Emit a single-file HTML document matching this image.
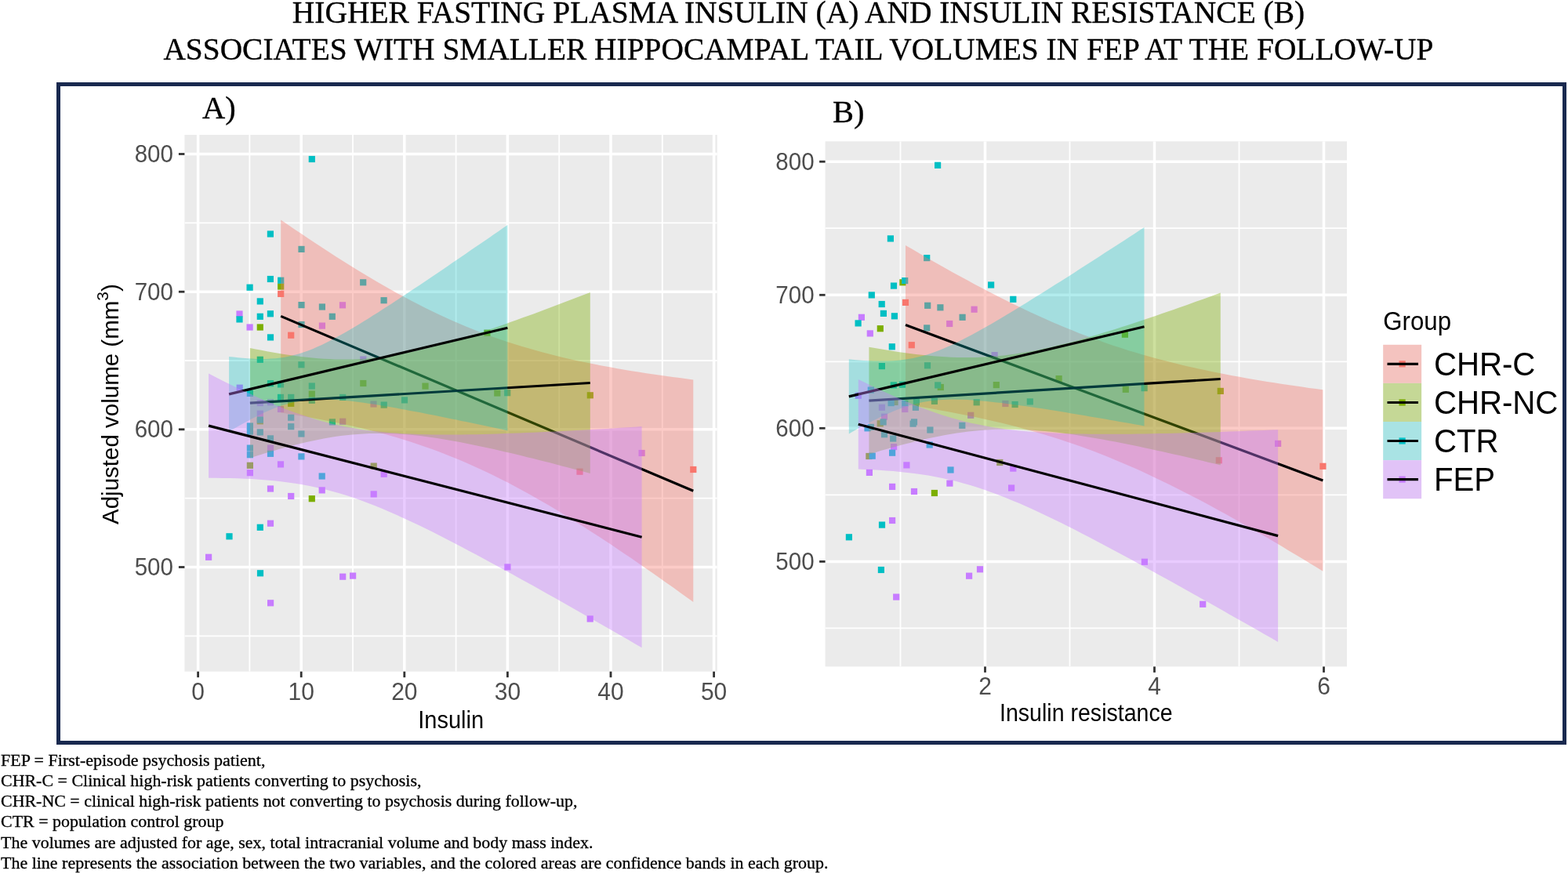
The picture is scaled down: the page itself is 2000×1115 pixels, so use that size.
<!DOCTYPE html>
<html><head><meta charset="utf-8"><title>Insulin and hippocampal tail volumes</title>
<style>
html,body{margin:0;padding:0;background:#fff;}
body{width:2000px;height:1115px;overflow:hidden;position:relative;}
svg{position:absolute;left:0;top:0;}
.ti{font-family:"Liberation Serif","Times New Roman",serif;font-size:39.46px;fill:#000;stroke:#000;stroke-width:0.35px;}
.pl{font-family:"Liberation Serif","Times New Roman",serif;font-size:40.5px;fill:#000;stroke:#000;stroke-width:0.35px;}
.ax{font-family:"Liberation Sans",Arial,Helvetica,sans-serif;font-size:29.1px;fill:#4D4D4D;}
.at{font-family:"Liberation Sans",Arial,Helvetica,sans-serif;font-size:29px;fill:#000;}
.lt{font-family:"Liberation Sans",Arial,Helvetica,sans-serif;font-size:31.2px;fill:#000;}
.ll{font-family:"Liberation Sans",Arial,Helvetica,sans-serif;font-size:39.8px;fill:#000;}
.fn{font-family:"Liberation Serif","Times New Roman",serif;font-size:21.1px;fill:#000;stroke:#000;stroke-width:0.3px;}
</style></head>
<body>
<svg width="2000" height="1115" viewBox="0 0 2000 1115">
<text transform="translate(1018.5,28.7) scale(1,1.03)" class="ti" text-anchor="middle">HIGHER FASTING PLASMA INSULIN (A) AND INSULIN RESISTANCE (B)</text>
<text transform="translate(1018.4,75.9) scale(0.9985,1.03)" class="ti" text-anchor="middle">ASSOCIATES WITH SMALLER HIPPOCAMPAL TAIL VOLUMES IN FEP AT THE FOLLOW-UP</text>
<rect x="74.5" y="107.5" width="1921" height="840" fill="none" stroke="#19294F" stroke-width="5"/>
<text x="258" y="150.9" class="pl">A)</text>
<text x="1061.9" y="155.9" class="pl">B)</text>
<defs><clipPath id="cA"><rect x="235.4" y="172" width="679.4" height="684.7"/></clipPath></defs>
<rect x="235.4" y="172" width="679.4" height="684.7" fill="#EBEBEB"/>
<g clip-path="url(#cA)">
<line x1="235.4" x2="914.8" y1="811.3" y2="811.3" stroke="#fff" stroke-width="1.8"/>
<line x1="235.4" x2="914.8" y1="635.7" y2="635.7" stroke="#fff" stroke-width="1.8"/>
<line x1="235.4" x2="914.8" y1="460" y2="460" stroke="#fff" stroke-width="1.8"/>
<line x1="235.4" x2="914.8" y1="284.3" y2="284.3" stroke="#fff" stroke-width="1.8"/>
<line x1="318.4" x2="318.4" y1="172" y2="856.7" stroke="#fff" stroke-width="1.8"/>
<line x1="450" x2="450" y1="172" y2="856.7" stroke="#fff" stroke-width="1.8"/>
<line x1="581.6" x2="581.6" y1="172" y2="856.7" stroke="#fff" stroke-width="1.8"/>
<line x1="713.2" x2="713.2" y1="172" y2="856.7" stroke="#fff" stroke-width="1.8"/>
<line x1="844.8" x2="844.8" y1="172" y2="856.7" stroke="#fff" stroke-width="1.8"/>
<line x1="235.4" x2="914.8" y1="723.5" y2="723.5" stroke="#fff" stroke-width="3.5"/>
<line x1="235.4" x2="914.8" y1="547.8" y2="547.8" stroke="#fff" stroke-width="3.5"/>
<line x1="235.4" x2="914.8" y1="372.2" y2="372.2" stroke="#fff" stroke-width="3.5"/>
<line x1="235.4" x2="914.8" y1="196.5" y2="196.5" stroke="#fff" stroke-width="3.5"/>
<line x1="252.6" x2="252.6" y1="172" y2="856.7" stroke="#fff" stroke-width="3.5"/>
<line x1="384.2" x2="384.2" y1="172" y2="856.7" stroke="#fff" stroke-width="3.5"/>
<line x1="515.8" x2="515.8" y1="172" y2="856.7" stroke="#fff" stroke-width="3.5"/>
<line x1="647.4" x2="647.4" y1="172" y2="856.7" stroke="#fff" stroke-width="3.5"/>
<line x1="779" x2="779" y1="172" y2="856.7" stroke="#fff" stroke-width="3.5"/>
<line x1="910.6" x2="910.6" y1="172" y2="856.7" stroke="#fff" stroke-width="3.5"/>
<rect x="354.1" y="370.8" width="8.2" height="8.2" fill="#F8766D"/>
<rect x="367.1" y="423.6" width="8.2" height="8.2" fill="#F8766D"/>
<rect x="880.2" y="594.9" width="8.2" height="8.2" fill="#F8766D"/>
<rect x="735.4" y="597.6" width="8.2" height="8.2" fill="#F8766D"/>
<rect x="354.1" y="361.4" width="8.2" height="8.2" fill="#7CAE00"/>
<rect x="327.7" y="413.4" width="8.2" height="8.2" fill="#7CAE00"/>
<rect x="459.2" y="484.9" width="8.2" height="8.2" fill="#7CAE00"/>
<rect x="393.7" y="498.5" width="8.2" height="8.2" fill="#7CAE00"/>
<rect x="367.1" y="510.7" width="8.2" height="8.2" fill="#7CAE00"/>
<rect x="327.7" y="533.2" width="8.2" height="8.2" fill="#7CAE00"/>
<rect x="314.8" y="589.7" width="8.2" height="8.2" fill="#7CAE00"/>
<rect x="472.6" y="590.5" width="8.2" height="8.2" fill="#7CAE00"/>
<rect x="393.7" y="632.1" width="8.2" height="8.2" fill="#7CAE00"/>
<rect x="538.4" y="488.5" width="8.2" height="8.2" fill="#7CAE00"/>
<rect x="630.2" y="497.4" width="8.2" height="8.2" fill="#7CAE00"/>
<rect x="617.3" y="420.6" width="8.2" height="8.2" fill="#7CAE00"/>
<rect x="748.7" y="500.2" width="8.2" height="8.2" fill="#7CAE00"/>
<rect x="393.7" y="198.9" width="8.2" height="8.2" fill="#00BFC4"/>
<rect x="340.8" y="294.4" width="8.2" height="8.2" fill="#00BFC4"/>
<rect x="380.4" y="313.8" width="8.2" height="8.2" fill="#00BFC4"/>
<rect x="340.8" y="351.9" width="8.2" height="8.2" fill="#00BFC4"/>
<rect x="354.1" y="353.6" width="8.2" height="8.2" fill="#00BFC4"/>
<rect x="314.5" y="362.6" width="8.2" height="8.2" fill="#00BFC4"/>
<rect x="459.1" y="356.2" width="8.2" height="8.2" fill="#00BFC4"/>
<rect x="327.7" y="380.3" width="8.2" height="8.2" fill="#00BFC4"/>
<rect x="380.4" y="385" width="8.2" height="8.2" fill="#00BFC4"/>
<rect x="406.8" y="387.4" width="8.2" height="8.2" fill="#00BFC4"/>
<rect x="432.9" y="385.2" width="8.2" height="8.2" fill="#C77CFF"/>
<rect x="301.4" y="396.4" width="8.2" height="8.2" fill="#C77CFF"/>
<rect x="301.4" y="403.3" width="8.2" height="8.2" fill="#00BFC4"/>
<rect x="327.7" y="399.7" width="8.2" height="8.2" fill="#00BFC4"/>
<rect x="340.8" y="396.2" width="8.2" height="8.2" fill="#00BFC4"/>
<rect x="419.7" y="399.7" width="8.2" height="8.2" fill="#00BFC4"/>
<rect x="314.5" y="413.4" width="8.2" height="8.2" fill="#C77CFF"/>
<rect x="380.4" y="409.9" width="8.2" height="8.2" fill="#00BFC4"/>
<rect x="406.8" y="411.5" width="8.2" height="8.2" fill="#C77CFF"/>
<rect x="485.5" y="379.1" width="8.2" height="8.2" fill="#00BFC4"/>
<rect x="340.9" y="426.3" width="8.2" height="8.2" fill="#00BFC4"/>
<rect x="327.7" y="454.7" width="8.2" height="8.2" fill="#00BFC4"/>
<rect x="380.3" y="461.2" width="8.2" height="8.2" fill="#00BFC4"/>
<rect x="459.2" y="454.4" width="8.2" height="8.2" fill="#C77CFF"/>
<rect x="340.9" y="485.1" width="8.2" height="8.2" fill="#00BFC4"/>
<rect x="353.9" y="486.3" width="8.2" height="8.2" fill="#00BFC4"/>
<rect x="393.7" y="488.4" width="8.2" height="8.2" fill="#00BFC4"/>
<rect x="301.6" y="490.6" width="8.2" height="8.2" fill="#C77CFF"/>
<rect x="314.8" y="497.8" width="8.2" height="8.2" fill="#00BFC4"/>
<rect x="353.9" y="502.8" width="8.2" height="8.2" fill="#00BFC4"/>
<rect x="367.1" y="502.8" width="8.2" height="8.2" fill="#00BFC4"/>
<rect x="393.7" y="506.7" width="8.2" height="8.2" fill="#00BFC4"/>
<rect x="433.1" y="502.8" width="8.2" height="8.2" fill="#00BFC4"/>
<rect x="327.7" y="510" width="8.2" height="8.2" fill="#C77CFF"/>
<rect x="340.9" y="509.2" width="8.2" height="8.2" fill="#C77CFF"/>
<rect x="353.9" y="517.9" width="8.2" height="8.2" fill="#C77CFF"/>
<rect x="472.4" y="511.4" width="8.2" height="8.2" fill="#C77CFF"/>
<rect x="327.7" y="523.6" width="8.2" height="8.2" fill="#C77CFF"/>
<rect x="327.7" y="531.5" width="8.2" height="8.2" fill="#00BFC4"/>
<rect x="367.1" y="528.6" width="8.2" height="8.2" fill="#00BFC4"/>
<rect x="419.8" y="534.3" width="8.2" height="8.2" fill="#00BFC4"/>
<rect x="433.1" y="533.6" width="8.2" height="8.2" fill="#C77CFF"/>
<rect x="314.8" y="539.4" width="8.2" height="8.2" fill="#00BFC4"/>
<rect x="367.1" y="540.1" width="8.2" height="8.2" fill="#00BFC4"/>
<rect x="327.7" y="547.3" width="8.2" height="8.2" fill="#00BFC4"/>
<rect x="380.3" y="549.4" width="8.2" height="8.2" fill="#00BFC4"/>
<rect x="314.8" y="546.5" width="8.2" height="8.2" fill="#00BFC4"/>
<rect x="340.9" y="555.3" width="8.2" height="8.2" fill="#00BFC4"/>
<rect x="340.9" y="567.5" width="8.2" height="8.2" fill="#C77CFF"/>
<rect x="314.8" y="567.5" width="8.2" height="8.2" fill="#00BFC4"/>
<rect x="314.8" y="576.1" width="8.2" height="8.2" fill="#00BFC4"/>
<rect x="340.9" y="574.7" width="8.2" height="8.2" fill="#00BFC4"/>
<rect x="380.3" y="578.3" width="8.2" height="8.2" fill="#00BFC4"/>
<rect x="353.9" y="588.3" width="8.2" height="8.2" fill="#C77CFF"/>
<rect x="314.8" y="599.1" width="8.2" height="8.2" fill="#C77CFF"/>
<rect x="406.6" y="603.4" width="8.2" height="8.2" fill="#00BFC4"/>
<rect x="340.9" y="619.4" width="8.2" height="8.2" fill="#C77CFF"/>
<rect x="406.6" y="621.3" width="8.2" height="8.2" fill="#C77CFF"/>
<rect x="367.1" y="628.9" width="8.2" height="8.2" fill="#C77CFF"/>
<rect x="472.6" y="626.3" width="8.2" height="8.2" fill="#C77CFF"/>
<rect x="340.9" y="663.6" width="8.2" height="8.2" fill="#C77CFF"/>
<rect x="327.7" y="668.7" width="8.2" height="8.2" fill="#00BFC4"/>
<rect x="288.4" y="680.2" width="8.2" height="8.2" fill="#00BFC4"/>
<rect x="262" y="706.7" width="8.2" height="8.2" fill="#C77CFF"/>
<rect x="327.9" y="727.2" width="8.2" height="8.2" fill="#00BFC4"/>
<rect x="341" y="765.2" width="8.2" height="8.2" fill="#C77CFF"/>
<rect x="433.1" y="731.6" width="8.2" height="8.2" fill="#C77CFF"/>
<rect x="446" y="730.5" width="8.2" height="8.2" fill="#C77CFF"/>
<rect x="511.9" y="506.3" width="8.2" height="8.2" fill="#00BFC4"/>
<rect x="485.6" y="512.5" width="8.2" height="8.2" fill="#00BFC4"/>
<rect x="643.1" y="497.1" width="8.2" height="8.2" fill="#00BFC4"/>
<rect x="485.6" y="600.7" width="8.2" height="8.2" fill="#C77CFF"/>
<rect x="643.3" y="719.3" width="8.2" height="8.2" fill="#C77CFF"/>
<rect x="814.5" y="573.9" width="8.2" height="8.2" fill="#C77CFF"/>
<rect x="748.6" y="785.4" width="8.2" height="8.2" fill="#C77CFF"/>
<path d="M358.2,280.4 L367,286.4 L375.7,292.4 L384.5,298.3 L393.3,304.2 L402,310.1 L410.8,315.8 L419.6,321.5 L428.3,327.2 L437.1,332.8 L445.9,338.3 L454.7,343.7 L463.4,349 L472.2,354.3 L481,359.5 L489.7,364.5 L498.5,369.5 L507.3,374.4 L516,379.1 L524.8,383.8 L533.6,388.3 L542.3,392.8 L551.1,397.1 L559.9,401.3 L568.6,405.3 L577.4,409.2 L586.2,413.1 L594.9,416.7 L603.7,420.3 L612.5,423.7 L621.2,427 L630,430.2 L638.8,433.3 L647.6,436.2 L656.3,439 L665.1,441.7 L673.9,444.3 L682.6,446.8 L691.4,449.2 L700.2,451.5 L708.9,453.8 L717.7,455.9 L726.5,457.9 L735.2,459.9 L744,461.8 L752.8,463.6 L761.5,465.3 L770.3,467 L779.1,468.6 L787.8,470.2 L796.6,471.7 L805.4,473.2 L814.2,474.6 L822.9,475.9 L831.7,477.2 L840.5,478.5 L849.2,479.8 L858,481 L866.8,482.1 L875.5,483.3 L884.3,484.4 L884.3,768 L875.5,761.7 L866.8,755.4 L858,749.1 L849.2,742.9 L840.5,736.7 L831.7,730.5 L822.9,724.4 L814.2,718.4 L805.4,712.3 L796.6,706.4 L787.8,700.5 L779.1,694.6 L770.3,688.8 L761.5,683 L752.8,677.4 L744,671.7 L735.2,666.2 L726.5,660.7 L717.7,655.4 L708.9,650.1 L700.2,644.8 L691.4,639.7 L682.6,634.7 L673.9,629.8 L665.1,625 L656.3,620.2 L647.6,615.6 L638.8,611.2 L630,606.8 L621.2,602.5 L612.5,598.4 L603.7,594.4 L594.9,590.5 L586.2,586.8 L577.4,583.2 L568.6,579.7 L559.9,576.3 L551.1,573.1 L542.3,570 L533.6,567 L524.8,564.1 L516,561.3 L507.3,558.6 L498.5,556.1 L489.7,553.6 L481,551.3 L472.2,549 L463.4,546.8 L454.7,544.8 L445.9,542.8 L437.1,540.8 L428.3,539 L419.6,537.2 L410.8,535.5 L402,533.8 L393.3,532.3 L384.5,530.7 L375.7,529.2 L367,527.8 L358.2,526.4Z" fill="#F8766D" fill-opacity="0.38"/>
<line x1="358.2" y1="403.4" x2="884.3" y2="626.2" stroke="#000" stroke-width="3.2"/>
<path d="M318.9,443.9 L326.1,445.4 L333.4,446.8 L340.6,448.2 L347.8,449.5 L355.1,450.7 L362.3,451.9 L369.5,453 L376.8,454 L384,454.9 L391.2,455.8 L398.4,456.5 L405.7,457.2 L412.9,457.7 L420.1,458.1 L427.4,458.4 L434.6,458.5 L441.8,458.6 L449.1,458.4 L456.3,458.2 L463.5,457.8 L470.8,457.2 L478,456.6 L485.2,455.7 L492.5,454.8 L499.7,453.7 L506.9,452.5 L514.2,451.1 L521.4,449.7 L528.6,448.1 L535.8,446.5 L543.1,444.7 L550.3,442.9 L557.5,441 L564.8,439 L572,436.9 L579.2,434.8 L586.5,432.6 L593.7,430.3 L600.9,428 L608.2,425.7 L615.4,423.3 L622.6,420.9 L629.9,418.4 L637.1,415.9 L644.3,413.4 L651.6,410.8 L658.8,408.2 L666,405.6 L673.3,403 L680.5,400.4 L687.7,397.7 L694.9,395 L702.2,392.3 L709.4,389.6 L716.6,386.8 L723.9,384.1 L731.1,381.3 L738.3,378.5 L745.6,375.7 L752.8,372.9 L752.8,604 L745.6,602.1 L738.3,600.1 L731.1,598.2 L723.9,596.3 L716.6,594.4 L709.4,592.5 L702.2,590.6 L694.9,588.8 L687.7,587 L680.5,585.1 L673.3,583.4 L666,581.6 L658.8,579.8 L651.6,578.1 L644.3,576.4 L637.1,574.7 L629.9,573.1 L622.6,571.5 L615.4,569.9 L608.2,568.4 L600.9,566.9 L593.7,565.5 L586.5,564.1 L579.2,562.7 L572,561.5 L564.8,560.2 L557.5,559.1 L550.3,558 L543.1,557 L535.8,556.1 L528.6,555.3 L521.4,554.6 L514.2,554.1 L506.9,553.6 L499.7,553.2 L492.5,553 L485.2,552.9 L478,552.9 L470.8,553.1 L463.5,553.4 L456.3,553.9 L449.1,554.5 L441.8,555.2 L434.6,556.1 L427.4,557.1 L420.1,558.2 L412.9,559.5 L405.7,560.9 L398.4,562.4 L391.2,564 L384,565.7 L376.8,567.5 L369.5,569.4 L362.3,571.3 L355.1,573.3 L347.8,575.4 L340.6,577.6 L333.4,579.8 L326.1,582.1 L318.9,584.4Z" fill="#7CAE00" fill-opacity="0.38"/>
<line x1="318.9" y1="514.2" x2="752.8" y2="488.5" stroke="#000" stroke-width="3.2"/>
<path d="M292.1,454.9 L298,455.6 L303.9,456.3 L309.8,456.8 L315.8,457.3 L321.7,457.6 L327.6,457.9 L333.5,458 L339.5,457.9 L345.4,457.6 L351.3,457.2 L357.2,456.5 L363.1,455.7 L369.1,454.5 L375,453.1 L380.9,451.5 L386.8,449.6 L392.8,447.5 L398.7,445.2 L404.6,442.6 L410.5,439.9 L416.4,437 L422.4,434 L428.3,430.8 L434.2,427.6 L440.1,424.2 L446.1,420.8 L452,417.3 L457.9,413.7 L463.8,410 L469.7,406.4 L475.7,402.6 L481.6,398.9 L487.5,395.1 L493.4,391.3 L499.4,387.4 L505.3,383.5 L511.2,379.6 L517.1,375.7 L523,371.8 L529,367.8 L534.9,363.9 L540.8,359.9 L546.7,355.9 L552.6,351.9 L558.6,347.9 L564.5,343.9 L570.4,339.9 L576.3,335.8 L582.3,331.8 L588.2,327.7 L594.1,323.7 L600,319.6 L605.9,315.6 L611.9,311.5 L617.8,307.4 L623.7,303.4 L629.6,299.3 L635.6,295.2 L641.5,291.1 L647.4,287 L647.4,549.4 L641.5,548.1 L635.6,546.8 L629.6,545.6 L623.7,544.3 L617.8,543.1 L611.9,541.8 L605.9,540.6 L600,539.3 L594.1,538.1 L588.2,536.9 L582.3,535.6 L576.3,534.4 L570.4,533.2 L564.5,532 L558.6,530.8 L552.6,529.6 L546.7,528.5 L540.8,527.3 L534.9,526.1 L529,525 L523,523.9 L517.1,522.8 L511.2,521.7 L505.3,520.6 L499.4,519.5 L493.4,518.5 L487.5,517.5 L481.6,516.5 L475.7,515.6 L469.7,514.7 L463.8,513.8 L457.9,513 L452,512.3 L446.1,511.6 L440.1,510.9 L434.2,510.4 L428.3,510 L422.4,509.6 L416.4,509.4 L410.5,509.4 L404.6,509.5 L398.7,509.8 L392.8,510.2 L386.8,510.9 L380.9,511.9 L375,513.1 L369.1,514.5 L363.1,516.2 L357.2,518.1 L351.3,520.3 L345.4,522.7 L339.5,525.3 L333.5,528 L327.6,530.9 L321.7,534 L315.8,537.2 L309.8,540.4 L303.9,543.8 L298,547.3 L292.1,550.8Z" fill="#00BFC4" fill-opacity="0.3"/>
<line x1="292.1" y1="502.9" x2="647.4" y2="418.2" stroke="#000" stroke-width="3.2"/>
<path d="M266.1,476.5 L275.3,481.2 L284.5,485.9 L293.7,490.4 L302.9,494.9 L312.1,499.3 L321.4,503.6 L330.6,507.7 L339.8,511.8 L349,515.7 L358.2,519.4 L367.4,523 L376.6,526.4 L385.8,529.6 L395,532.6 L404.2,535.4 L413.4,538 L422.6,540.4 L431.9,542.5 L441.1,544.4 L450.3,546.1 L459.5,547.7 L468.7,549 L477.9,550.1 L487.1,551.1 L496.3,551.9 L505.5,552.6 L514.7,553.2 L523.9,553.6 L533.1,554 L542.4,554.2 L551.6,554.4 L560.8,554.5 L570,554.6 L579.2,554.5 L588.4,554.5 L597.6,554.3 L606.8,554.2 L616,554 L625.2,553.7 L634.4,553.4 L643.6,553.1 L652.9,552.8 L662.1,552.5 L671.3,552.1 L680.5,551.7 L689.7,551.3 L698.9,550.8 L708.1,550.4 L717.3,549.9 L726.5,549.4 L735.7,549 L744.9,548.5 L754.1,547.9 L763.4,547.4 L772.6,546.9 L781.8,546.4 L791,545.8 L800.2,545.3 L809.4,544.7 L818.6,544.1 L818.6,826.2 L809.4,820.9 L800.2,815.6 L791,810.3 L781.8,805 L772.6,799.8 L763.4,794.5 L754.1,789.2 L744.9,784 L735.7,778.8 L726.5,773.5 L717.3,768.3 L708.1,763.1 L698.9,757.9 L689.7,752.8 L680.5,747.6 L671.3,742.5 L662.1,737.4 L652.9,732.3 L643.6,727.2 L634.4,722.2 L625.2,717.2 L616,712.2 L606.8,707.3 L597.6,702.4 L588.4,697.5 L579.2,692.7 L570,687.9 L560.8,683.3 L551.6,678.6 L542.4,674.1 L533.1,669.6 L523.9,665.2 L514.7,660.9 L505.5,656.8 L496.3,652.7 L487.1,648.8 L477.9,645 L468.7,641.4 L459.5,638 L450.3,634.8 L441.1,631.8 L431.9,629 L422.6,626.4 L413.4,624 L404.2,621.9 L395,619.9 L385.8,618.2 L376.6,616.7 L367.4,615.4 L358.2,614.2 L349,613.2 L339.8,612.4 L330.6,611.7 L321.4,611.1 L312.1,610.7 L302.9,610.3 L293.7,610 L284.5,609.9 L275.3,609.8 L266.1,609.7Z" fill="#C77CFF" fill-opacity="0.4"/>
<line x1="266.1" y1="543.1" x2="818.6" y2="685.2" stroke="#000" stroke-width="3.2"/>
</g>
<line x1="227.9" x2="235.4" y1="723.5" y2="723.5" stroke="#333" stroke-width="2.8"/>
<text transform="translate(220.9,734.1) scale(1.015,1.065)" class="ax" text-anchor="end">500</text>
<line x1="227.9" x2="235.4" y1="547.8" y2="547.8" stroke="#333" stroke-width="2.8"/>
<text transform="translate(220.9,558.4) scale(1.015,1.065)" class="ax" text-anchor="end">600</text>
<line x1="227.9" x2="235.4" y1="372.2" y2="372.2" stroke="#333" stroke-width="2.8"/>
<text transform="translate(220.9,382.8) scale(1.015,1.065)" class="ax" text-anchor="end">700</text>
<line x1="227.9" x2="235.4" y1="196.5" y2="196.5" stroke="#333" stroke-width="2.8"/>
<text transform="translate(220.9,207.1) scale(1.015,1.065)" class="ax" text-anchor="end">800</text>
<line x1="252.6" x2="252.6" y1="856.7" y2="864.2" stroke="#333" stroke-width="2.8"/>
<text transform="translate(252.6,892.8) scale(1.03,1.065)" class="ax" text-anchor="middle">0</text>
<line x1="384.2" x2="384.2" y1="856.7" y2="864.2" stroke="#333" stroke-width="2.8"/>
<text transform="translate(384.2,892.8) scale(1.03,1.065)" class="ax" text-anchor="middle">10</text>
<line x1="515.8" x2="515.8" y1="856.7" y2="864.2" stroke="#333" stroke-width="2.8"/>
<text transform="translate(515.8,892.8) scale(1.03,1.065)" class="ax" text-anchor="middle">20</text>
<line x1="647.4" x2="647.4" y1="856.7" y2="864.2" stroke="#333" stroke-width="2.8"/>
<text transform="translate(647.4,892.8) scale(1.03,1.065)" class="ax" text-anchor="middle">30</text>
<line x1="779" x2="779" y1="856.7" y2="864.2" stroke="#333" stroke-width="2.8"/>
<text transform="translate(779,892.8) scale(1.03,1.065)" class="ax" text-anchor="middle">40</text>
<line x1="910.6" x2="910.6" y1="856.7" y2="864.2" stroke="#333" stroke-width="2.8"/>
<text transform="translate(910.6,892.8) scale(1.03,1.065)" class="ax" text-anchor="middle">50</text>
<defs><clipPath id="cB"><rect x="1052.6" y="180.3" width="665.4" height="670.1"/></clipPath></defs>
<rect x="1052.6" y="180.3" width="665.4" height="670.1" fill="#EBEBEB"/>
<g clip-path="url(#cB)">
<line x1="1052.6" x2="1718" y1="801.4" y2="801.4" stroke="#fff" stroke-width="1.8"/>
<line x1="1052.6" x2="1718" y1="631.4" y2="631.4" stroke="#fff" stroke-width="1.8"/>
<line x1="1052.6" x2="1718" y1="461.3" y2="461.3" stroke="#fff" stroke-width="1.8"/>
<line x1="1052.6" x2="1718" y1="291.2" y2="291.2" stroke="#fff" stroke-width="1.8"/>
<line x1="1148.5" x2="1148.5" y1="180.3" y2="850.4" stroke="#fff" stroke-width="1.8"/>
<line x1="1364.5" x2="1364.5" y1="180.3" y2="850.4" stroke="#fff" stroke-width="1.8"/>
<line x1="1580.5" x2="1580.5" y1="180.3" y2="850.4" stroke="#fff" stroke-width="1.8"/>
<line x1="1052.6" x2="1718" y1="716.4" y2="716.4" stroke="#fff" stroke-width="3.5"/>
<line x1="1052.6" x2="1718" y1="546.3" y2="546.3" stroke="#fff" stroke-width="3.5"/>
<line x1="1052.6" x2="1718" y1="376.3" y2="376.3" stroke="#fff" stroke-width="3.5"/>
<line x1="1052.6" x2="1718" y1="206.2" y2="206.2" stroke="#fff" stroke-width="3.5"/>
<line x1="1256.5" x2="1256.5" y1="180.3" y2="850.4" stroke="#fff" stroke-width="3.5"/>
<line x1="1472.5" x2="1472.5" y1="180.3" y2="850.4" stroke="#fff" stroke-width="3.5"/>
<line x1="1688.5" x2="1688.5" y1="180.3" y2="850.4" stroke="#fff" stroke-width="3.5"/>
<rect x="1150.9" y="381.8" width="8.2" height="8.2" fill="#F8766D"/>
<rect x="1158.7" y="436.1" width="8.2" height="8.2" fill="#F8766D"/>
<rect x="1683.3" y="590.7" width="8.2" height="8.2" fill="#F8766D"/>
<rect x="1550.7" y="583.2" width="8.2" height="8.2" fill="#F8766D"/>
<rect x="1147.3" y="356.2" width="8.2" height="8.2" fill="#7CAE00"/>
<rect x="1118.7" y="415.1" width="8.2" height="8.2" fill="#7CAE00"/>
<rect x="1195.7" y="489.9" width="8.2" height="8.2" fill="#7CAE00"/>
<rect x="1266.7" y="487" width="8.2" height="8.2" fill="#7CAE00"/>
<rect x="1137.4" y="508.9" width="8.2" height="8.2" fill="#7CAE00"/>
<rect x="1118.6" y="536.2" width="8.2" height="8.2" fill="#7CAE00"/>
<rect x="1104.3" y="577.9" width="8.2" height="8.2" fill="#7CAE00"/>
<rect x="1271.2" y="585.9" width="8.2" height="8.2" fill="#7CAE00"/>
<rect x="1187.8" y="624.9" width="8.2" height="8.2" fill="#7CAE00"/>
<rect x="1430.8" y="422.6" width="8.2" height="8.2" fill="#7CAE00"/>
<rect x="1552.7" y="494.8" width="8.2" height="8.2" fill="#7CAE00"/>
<rect x="1346.5" y="479" width="8.2" height="8.2" fill="#7CAE00"/>
<rect x="1431.7" y="492.7" width="8.2" height="8.2" fill="#7CAE00"/>
<rect x="1192" y="206.7" width="8.2" height="8.2" fill="#00BFC4"/>
<rect x="1131.8" y="300.3" width="8.2" height="8.2" fill="#00BFC4"/>
<rect x="1178.1" y="325" width="8.2" height="8.2" fill="#00BFC4"/>
<rect x="1150.1" y="354" width="8.2" height="8.2" fill="#00BFC4"/>
<rect x="1135.9" y="360.5" width="8.2" height="8.2" fill="#00BFC4"/>
<rect x="1260" y="359.4" width="8.2" height="8.2" fill="#00BFC4"/>
<rect x="1107.7" y="372.3" width="8.2" height="8.2" fill="#00BFC4"/>
<rect x="1120.6" y="383.9" width="8.2" height="8.2" fill="#00BFC4"/>
<rect x="1179.1" y="385.7" width="8.2" height="8.2" fill="#00BFC4"/>
<rect x="1195.3" y="388.2" width="8.2" height="8.2" fill="#00BFC4"/>
<rect x="1238.5" y="390.6" width="8.2" height="8.2" fill="#C77CFF"/>
<rect x="1122.8" y="395.8" width="8.2" height="8.2" fill="#00BFC4"/>
<rect x="1136.8" y="399.2" width="8.2" height="8.2" fill="#00BFC4"/>
<rect x="1094.8" y="400.7" width="8.2" height="8.2" fill="#C77CFF"/>
<rect x="1090.5" y="408.3" width="8.2" height="8.2" fill="#00BFC4"/>
<rect x="1223.5" y="400.7" width="8.2" height="8.2" fill="#00BFC4"/>
<rect x="1207.1" y="408.9" width="8.2" height="8.2" fill="#C77CFF"/>
<rect x="1178.1" y="414.3" width="8.2" height="8.2" fill="#00BFC4"/>
<rect x="1288.2" y="377.7" width="8.2" height="8.2" fill="#00BFC4"/>
<rect x="1105.7" y="421.3" width="8.2" height="8.2" fill="#C77CFF"/>
<rect x="1133.7" y="438.2" width="8.2" height="8.2" fill="#00BFC4"/>
<rect x="1264.5" y="449" width="8.2" height="8.2" fill="#C77CFF"/>
<rect x="1120.8" y="463" width="8.2" height="8.2" fill="#00BFC4"/>
<rect x="1178.9" y="462.2" width="8.2" height="8.2" fill="#00BFC4"/>
<rect x="1135.7" y="487.3" width="8.2" height="8.2" fill="#00BFC4"/>
<rect x="1146.9" y="486.6" width="8.2" height="8.2" fill="#00BFC4"/>
<rect x="1192.1" y="487.3" width="8.2" height="8.2" fill="#00BFC4"/>
<rect x="1106.7" y="493.5" width="8.2" height="8.2" fill="#00BFC4"/>
<rect x="1090.7" y="500.6" width="8.2" height="8.2" fill="#C77CFF"/>
<rect x="1132.5" y="510" width="8.2" height="8.2" fill="#00BFC4"/>
<rect x="1150.2" y="510.7" width="8.2" height="8.2" fill="#00BFC4"/>
<rect x="1164.8" y="508.5" width="8.2" height="8.2" fill="#00BFC4"/>
<rect x="1187.8" y="507.8" width="8.2" height="8.2" fill="#00BFC4"/>
<rect x="1241.6" y="509.2" width="8.2" height="8.2" fill="#00BFC4"/>
<rect x="1120.8" y="515.7" width="8.2" height="8.2" fill="#C77CFF"/>
<rect x="1150.2" y="517.9" width="8.2" height="8.2" fill="#C77CFF"/>
<rect x="1163.8" y="515.7" width="8.2" height="8.2" fill="#00BFC4"/>
<rect x="1123.9" y="527.6" width="8.2" height="8.2" fill="#C77CFF"/>
<rect x="1234.1" y="525.7" width="8.2" height="8.2" fill="#C77CFF"/>
<rect x="1122.5" y="534.3" width="8.2" height="8.2" fill="#00BFC4"/>
<rect x="1161.9" y="534.3" width="8.2" height="8.2" fill="#00BFC4"/>
<rect x="1160.5" y="536.5" width="8.2" height="8.2" fill="#00BFC4"/>
<rect x="1223.2" y="538.7" width="8.2" height="8.2" fill="#00BFC4"/>
<rect x="1102.4" y="542.2" width="8.2" height="8.2" fill="#00BFC4"/>
<rect x="1106.7" y="540.8" width="8.2" height="8.2" fill="#00BFC4"/>
<rect x="1182.3" y="544.4" width="8.2" height="8.2" fill="#00BFC4"/>
<rect x="1123.9" y="550.1" width="8.2" height="8.2" fill="#00BFC4"/>
<rect x="1135.1" y="555.4" width="8.2" height="8.2" fill="#00BFC4"/>
<rect x="1136" y="566" width="8.2" height="8.2" fill="#C77CFF"/>
<rect x="1134" y="573.6" width="8.2" height="8.2" fill="#00BFC4"/>
<rect x="1108.6" y="577.6" width="8.2" height="8.2" fill="#00BFC4"/>
<rect x="1181.6" y="563.4" width="8.2" height="8.2" fill="#00BFC4"/>
<rect x="1152.3" y="589.3" width="8.2" height="8.2" fill="#C77CFF"/>
<rect x="1208.4" y="595.4" width="8.2" height="8.2" fill="#00BFC4"/>
<rect x="1104.8" y="598.8" width="8.2" height="8.2" fill="#C77CFF"/>
<rect x="1134" y="616.8" width="8.2" height="8.2" fill="#C77CFF"/>
<rect x="1207.3" y="612.5" width="8.2" height="8.2" fill="#C77CFF"/>
<rect x="1161.9" y="622.9" width="8.2" height="8.2" fill="#C77CFF"/>
<rect x="1134" y="659.9" width="8.2" height="8.2" fill="#C77CFF"/>
<rect x="1120.9" y="665.5" width="8.2" height="8.2" fill="#00BFC4"/>
<rect x="1078.8" y="681.2" width="8.2" height="8.2" fill="#00BFC4"/>
<rect x="1119.8" y="722.9" width="8.2" height="8.2" fill="#00BFC4"/>
<rect x="1139.1" y="757.5" width="8.2" height="8.2" fill="#C77CFF"/>
<rect x="1232" y="730.6" width="8.2" height="8.2" fill="#C77CFF"/>
<rect x="1245.9" y="722.2" width="8.2" height="8.2" fill="#C77CFF"/>
<rect x="1455.5" y="491" width="8.2" height="8.2" fill="#00BFC4"/>
<rect x="1626" y="561.8" width="8.2" height="8.2" fill="#C77CFF"/>
<rect x="1455.8" y="712.7" width="8.2" height="8.2" fill="#C77CFF"/>
<rect x="1530.1" y="766.7" width="8.2" height="8.2" fill="#C77CFF"/>
<rect x="1278.3" y="510.9" width="8.2" height="8.2" fill="#C77CFF"/>
<rect x="1290.5" y="511.9" width="8.2" height="8.2" fill="#00BFC4"/>
<rect x="1309.7" y="508.3" width="8.2" height="8.2" fill="#00BFC4"/>
<rect x="1288.2" y="593.5" width="8.2" height="8.2" fill="#C77CFF"/>
<rect x="1286" y="618.4" width="8.2" height="8.2" fill="#C77CFF"/>
<path d="M1155,312.9 L1163.9,318.1 L1172.7,323.3 L1181.6,328.4 L1190.5,333.5 L1199.4,338.5 L1208.2,343.5 L1217.1,348.4 L1226,353.3 L1234.9,358.1 L1243.7,362.9 L1252.6,367.6 L1261.5,372.3 L1270.4,376.8 L1279.2,381.3 L1288.1,385.7 L1297,390.1 L1305.8,394.3 L1314.7,398.5 L1323.6,402.6 L1332.5,406.6 L1341.3,410.5 L1350.2,414.3 L1359.1,418 L1368,421.6 L1376.8,425.2 L1385.7,428.6 L1394.6,431.9 L1403.5,435.1 L1412.3,438.2 L1421.2,441.2 L1430.1,444.1 L1438.9,446.9 L1447.8,449.6 L1456.7,452.2 L1465.6,454.8 L1474.4,457.2 L1483.3,459.6 L1492.2,461.8 L1501.1,464 L1509.9,466.2 L1518.8,468.2 L1527.7,470.2 L1536.6,472.1 L1545.4,474 L1554.3,475.7 L1563.2,477.5 L1572,479.2 L1580.9,480.8 L1589.8,482.4 L1598.7,483.9 L1607.5,485.4 L1616.4,486.9 L1625.3,488.3 L1634.2,489.7 L1643,491 L1651.9,492.3 L1660.8,493.6 L1669.7,494.9 L1678.5,496.1 L1687.4,497.3 L1687.4,728.7 L1678.5,723.2 L1669.7,717.9 L1660.8,712.5 L1651.9,707.2 L1643,701.9 L1634.2,696.6 L1625.3,691.3 L1616.4,686.1 L1607.5,681 L1598.7,675.9 L1589.8,670.8 L1580.9,665.7 L1572,660.8 L1563.2,655.8 L1554.3,650.9 L1545.4,646.1 L1536.6,641.3 L1527.7,636.6 L1518.8,632 L1509.9,627.4 L1501.1,622.9 L1492.2,618.5 L1483.3,614.2 L1474.4,609.9 L1465.6,605.7 L1456.7,601.6 L1447.8,597.6 L1438.9,593.7 L1430.1,589.9 L1421.2,586.2 L1412.3,582.6 L1403.5,579.1 L1394.6,575.6 L1385.7,572.3 L1376.8,569.1 L1368,566 L1359.1,563 L1350.2,560.1 L1341.3,557.3 L1332.5,554.6 L1323.6,551.9 L1314.7,549.4 L1305.8,547 L1297,544.6 L1288.1,542.3 L1279.2,540.1 L1270.4,538 L1261.5,536 L1252.6,534 L1243.7,532.1 L1234.9,530.2 L1226,528.4 L1217.1,526.7 L1208.2,525 L1199.4,523.4 L1190.5,521.8 L1181.6,520.2 L1172.7,518.7 L1163.9,517.3 L1155,515.9Z" fill="#F8766D" fill-opacity="0.38"/>
<line x1="1155" y1="414.4" x2="1687.4" y2="613" stroke="#000" stroke-width="3.2"/>
<path d="M1108.4,442.7 L1115.9,444 L1123.3,445.3 L1130.8,446.6 L1138.3,447.8 L1145.8,448.9 L1153.2,450 L1160.7,451 L1168.2,451.9 L1175.7,452.8 L1183.1,453.6 L1190.6,454.2 L1198.1,454.8 L1205.6,455.3 L1213,455.7 L1220.5,455.9 L1228,456.1 L1235.4,456.1 L1242.9,456 L1250.4,455.7 L1257.9,455.3 L1265.3,454.8 L1272.8,454.2 L1280.3,453.4 L1287.8,452.5 L1295.2,451.5 L1302.7,450.3 L1310.2,449 L1317.7,447.7 L1325.1,446.2 L1332.6,444.6 L1340.1,442.9 L1347.5,441.1 L1355,439.3 L1362.5,437.4 L1370,435.4 L1377.4,433.4 L1384.9,431.2 L1392.4,429.1 L1399.9,426.9 L1407.3,424.6 L1414.8,422.3 L1422.3,420 L1429.8,417.6 L1437.2,415.2 L1444.7,412.7 L1452.2,410.3 L1459.6,407.8 L1467.1,405.2 L1474.6,402.7 L1482.1,400.1 L1489.5,397.5 L1497,394.9 L1504.5,392.3 L1512,389.7 L1519.4,387 L1526.9,384.3 L1534.4,381.7 L1541.9,379 L1549.3,376.3 L1556.8,373.5 L1556.8,593.4 L1549.3,591.6 L1541.9,589.9 L1534.4,588.1 L1526.9,586.3 L1519.4,584.6 L1512,582.8 L1504.5,581.1 L1497,579.4 L1489.5,577.7 L1482.1,576.1 L1474.6,574.4 L1467.1,572.8 L1459.6,571.2 L1452.2,569.6 L1444.7,568.1 L1437.2,566.6 L1429.8,565.1 L1422.3,563.6 L1414.8,562.2 L1407.3,560.8 L1399.9,559.5 L1392.4,558.2 L1384.9,556.9 L1377.4,555.7 L1370,554.6 L1362.5,553.6 L1355,552.6 L1347.5,551.6 L1340.1,550.8 L1332.6,550 L1325.1,549.4 L1317.7,548.8 L1310.2,548.4 L1302.7,548 L1295.2,547.8 L1287.8,547.7 L1280.3,547.7 L1272.8,547.8 L1265.3,548.1 L1257.9,548.5 L1250.4,549.1 L1242.9,549.7 L1235.4,550.5 L1228,551.5 L1220.5,552.5 L1213,553.7 L1205.6,555 L1198.1,556.4 L1190.6,557.9 L1183.1,559.5 L1175.7,561.2 L1168.2,563 L1160.7,564.9 L1153.2,566.8 L1145.8,568.8 L1138.3,570.8 L1130.8,573 L1123.3,575.1 L1115.9,577.4 L1108.4,579.6Z" fill="#7CAE00" fill-opacity="0.38"/>
<line x1="1108.4" y1="511.1" x2="1556.8" y2="483.5" stroke="#000" stroke-width="3.2"/>
<path d="M1082.8,458.3 L1089.1,458.9 L1095.4,459.4 L1101.7,459.9 L1107.9,460.2 L1114.2,460.5 L1120.5,460.6 L1126.8,460.6 L1133.1,460.5 L1139.3,460.2 L1145.6,459.7 L1151.9,459.1 L1158.2,458.1 L1164.5,457 L1170.7,455.6 L1177,454 L1183.3,452.2 L1189.6,450.1 L1195.8,447.8 L1202.1,445.2 L1208.4,442.6 L1214.7,439.7 L1221,436.7 L1227.2,433.6 L1233.5,430.3 L1239.8,427 L1246.1,423.6 L1252.4,420.1 L1258.6,416.5 L1264.9,412.9 L1271.2,409.2 L1277.5,405.5 L1283.7,401.8 L1290,398 L1296.3,394.2 L1302.6,390.3 L1308.9,386.4 L1315.1,382.6 L1321.4,378.6 L1327.7,374.7 L1334,370.8 L1340.3,366.8 L1346.5,362.8 L1352.8,358.9 L1359.1,354.9 L1365.4,350.9 L1371.6,346.9 L1377.9,342.8 L1384.2,338.8 L1390.5,334.8 L1396.8,330.7 L1403,326.7 L1409.3,322.6 L1415.6,318.6 L1421.9,314.5 L1428.1,310.4 L1434.4,306.4 L1440.7,302.3 L1447,298.2 L1453.3,294.1 L1459.5,290 L1459.5,543.4 L1453.3,542.3 L1447,541.2 L1440.7,540.1 L1434.4,539 L1428.1,537.9 L1421.9,536.8 L1415.6,535.7 L1409.3,534.6 L1403,533.5 L1396.8,532.5 L1390.5,531.4 L1384.2,530.3 L1377.9,529.3 L1371.6,528.2 L1365.4,527.2 L1359.1,526.1 L1352.8,525.1 L1346.5,524.1 L1340.3,523.1 L1334,522.1 L1327.7,521.1 L1321.4,520.2 L1315.1,519.2 L1308.9,518.3 L1302.6,517.4 L1296.3,516.6 L1290,515.7 L1283.7,514.9 L1277.5,514.1 L1271.2,513.4 L1264.9,512.7 L1258.6,512 L1252.4,511.4 L1246.1,510.9 L1239.8,510.4 L1233.5,510.1 L1227.2,509.8 L1221,509.7 L1214.7,509.6 L1208.4,509.7 L1202.1,510 L1195.8,510.5 L1189.6,511.1 L1183.3,512 L1177,513.1 L1170.7,514.5 L1164.5,516.1 L1158.2,517.9 L1151.9,520 L1145.6,522.3 L1139.3,524.8 L1133.1,527.4 L1126.8,530.3 L1120.5,533.2 L1114.2,536.4 L1107.9,539.6 L1101.7,542.9 L1095.4,546.3 L1089.1,549.8 L1082.8,553.4Z" fill="#00BFC4" fill-opacity="0.3"/>
<line x1="1082.8" y1="505.9" x2="1459.5" y2="416.7" stroke="#000" stroke-width="3.2"/>
<path d="M1094.8,483.9 L1103.7,488.3 L1112.7,492.7 L1121.6,496.9 L1130.5,501 L1139.4,505.1 L1148.3,509 L1157.3,512.8 L1166.2,516.4 L1175.1,519.9 L1184,523.3 L1193,526.4 L1201.9,529.4 L1210.8,532.2 L1219.7,534.8 L1228.6,537.2 L1237.6,539.4 L1246.5,541.3 L1255.4,543.1 L1264.3,544.7 L1273.2,546.1 L1282.2,547.4 L1291.1,548.5 L1300,549.4 L1308.9,550.3 L1317.8,551 L1326.8,551.6 L1335.7,552.1 L1344.6,552.6 L1353.5,552.9 L1362.4,553.2 L1371.4,553.4 L1380.3,553.6 L1389.2,553.7 L1398.1,553.8 L1407.1,553.8 L1416,553.8 L1424.9,553.8 L1433.8,553.8 L1442.7,553.7 L1451.7,553.6 L1460.6,553.4 L1469.5,553.3 L1478.4,553.1 L1487.3,552.9 L1496.3,552.7 L1505.2,552.5 L1514.1,552.2 L1523,552 L1531.9,551.7 L1540.9,551.4 L1549.8,551.2 L1558.7,550.9 L1567.6,550.6 L1576.5,550.3 L1585.5,550 L1594.4,549.6 L1603.3,549.3 L1612.2,549 L1621.2,548.6 L1630.1,548.3 L1630.1,818.9 L1621.2,813.8 L1612.2,808.7 L1603.3,803.6 L1594.4,798.5 L1585.5,793.5 L1576.5,788.4 L1567.6,783.4 L1558.7,778.3 L1549.8,773.3 L1540.9,768.3 L1531.9,763.2 L1523,758.2 L1514.1,753.2 L1505.2,748.3 L1496.3,743.3 L1487.3,738.3 L1478.4,733.4 L1469.5,728.5 L1460.6,723.6 L1451.7,718.7 L1442.7,713.8 L1433.8,709 L1424.9,704.2 L1416,699.4 L1407.1,694.7 L1398.1,690 L1389.2,685.3 L1380.3,680.7 L1371.4,676.1 L1362.4,671.6 L1353.5,667.1 L1344.6,662.8 L1335.7,658.4 L1326.8,654.2 L1317.8,650.1 L1308.9,646.1 L1300,642.1 L1291.1,638.4 L1282.2,634.7 L1273.2,631.2 L1264.3,627.9 L1255.4,624.7 L1246.5,621.8 L1237.6,619 L1228.6,616.4 L1219.7,614.1 L1210.8,611.9 L1201.9,610 L1193,608.2 L1184,606.6 L1175.1,605.2 L1166.2,604 L1157.3,602.9 L1148.3,601.9 L1139.4,601.1 L1130.5,600.4 L1121.6,599.8 L1112.7,599.3 L1103.7,598.9 L1094.8,598.5Z" fill="#C77CFF" fill-opacity="0.4"/>
<line x1="1094.8" y1="541.2" x2="1630.1" y2="683.6" stroke="#000" stroke-width="3.2"/>
</g>
<line x1="1045.1" x2="1052.6" y1="716.4" y2="716.4" stroke="#333" stroke-width="2.8"/>
<text transform="translate(1038.6,727) scale(1.015,1.065)" class="ax" text-anchor="end">500</text>
<line x1="1045.1" x2="1052.6" y1="546.3" y2="546.3" stroke="#333" stroke-width="2.8"/>
<text transform="translate(1038.6,556.9) scale(1.015,1.065)" class="ax" text-anchor="end">600</text>
<line x1="1045.1" x2="1052.6" y1="376.3" y2="376.3" stroke="#333" stroke-width="2.8"/>
<text transform="translate(1038.6,386.9) scale(1.015,1.065)" class="ax" text-anchor="end">700</text>
<line x1="1045.1" x2="1052.6" y1="206.2" y2="206.2" stroke="#333" stroke-width="2.8"/>
<text transform="translate(1038.6,216.8) scale(1.015,1.065)" class="ax" text-anchor="end">800</text>
<line x1="1256.5" x2="1256.5" y1="850.4" y2="857.9" stroke="#333" stroke-width="2.8"/>
<text transform="translate(1256.5,886) scale(1.03,1.065)" class="ax" text-anchor="middle">2</text>
<line x1="1472.5" x2="1472.5" y1="850.4" y2="857.9" stroke="#333" stroke-width="2.8"/>
<text transform="translate(1472.5,886) scale(1.03,1.065)" class="ax" text-anchor="middle">4</text>
<line x1="1688.5" x2="1688.5" y1="850.4" y2="857.9" stroke="#333" stroke-width="2.8"/>
<text transform="translate(1688.5,886) scale(1.03,1.065)" class="ax" text-anchor="middle">6</text>
<text transform="translate(1764.3,421.1) scale(1,1.09)" class="lt">Group</text>
<rect x="1764.2" y="439.8" width="48.9" height="49.1" fill="#F2F2F2"/>
<rect x="1764.2" y="439.8" width="48.9" height="49.1" fill="#F8766D" fill-opacity="0.38"/>
<rect x="1784.5" y="460.2" width="8.2" height="8.2" fill="#F8766D"/>
<line x1="1769.5" x2="1809" y1="464.4" y2="464.4" stroke="#000" stroke-width="3.2"/>
<text transform="translate(1828.9,478.9) scale(1.01,1.065)" class="ll">CHR-C</text>
<rect x="1764.2" y="488.9" width="48.9" height="49.1" fill="#F2F2F2"/>
<rect x="1764.2" y="488.9" width="48.9" height="49.1" fill="#7CAE00" fill-opacity="0.38"/>
<rect x="1784.5" y="509.4" width="8.2" height="8.2" fill="#7CAE00"/>
<line x1="1769.5" x2="1809" y1="513.5" y2="513.5" stroke="#000" stroke-width="3.2"/>
<text transform="translate(1828.9,528) scale(1.01,1.065)" class="ll">CHR-NC</text>
<rect x="1764.2" y="538" width="48.9" height="49.1" fill="#F2F2F2"/>
<rect x="1764.2" y="538" width="48.9" height="49.1" fill="#00BFC4" fill-opacity="0.3"/>
<rect x="1784.5" y="558.4" width="8.2" height="8.2" fill="#00BFC4"/>
<line x1="1769.5" x2="1809" y1="562.5" y2="562.5" stroke="#000" stroke-width="3.2"/>
<text transform="translate(1828.9,577) scale(1.01,1.065)" class="ll">CTR</text>
<rect x="1764.2" y="587.1" width="48.9" height="49.1" fill="#F2F2F2"/>
<rect x="1764.2" y="587.1" width="48.9" height="49.1" fill="#C77CFF" fill-opacity="0.4"/>
<rect x="1784.5" y="607.5" width="8.2" height="8.2" fill="#C77CFF"/>
<line x1="1769.5" x2="1809" y1="611.6" y2="611.6" stroke="#000" stroke-width="3.2"/>
<text transform="translate(1828.9,626.1) scale(1.01,1.065)" class="ll">FEP</text>
<text transform="translate(575.15,928.5) scale(1,1.065)" class="at" text-anchor="middle">Insulin</text>
<text transform="translate(1385.3,920.2) scale(0.985,1.065)" class="at" text-anchor="middle">Insulin resistance</text>
<text transform="translate(150.9,669) rotate(-90) scale(1.018,1)" class="at">Adjusted volume (mm<tspan dy="-12.5" font-size="20.5px">3</tspan><tspan dy="12.5">)</tspan></text>
<text x="1" y="976.8" class="fn" textLength="337.5" lengthAdjust="spacingAndGlyphs">FEP = First-episode psychosis patient,</text>
<text x="1" y="1002.9" class="fn" textLength="536.5" lengthAdjust="spacingAndGlyphs">CHR-C = Clinical high-risk patients converting to psychosis,</text>
<text x="1" y="1029.1" class="fn" textLength="735.5" lengthAdjust="spacingAndGlyphs">CHR-NC = clinical high-risk patients not converting to psychosis during follow-up,</text>
<text x="1" y="1055.3" class="fn" textLength="284.5" lengthAdjust="spacingAndGlyphs">CTR = population control group</text>
<text x="1" y="1081.5" class="fn" textLength="755.5" lengthAdjust="spacingAndGlyphs">The volumes are adjusted for age, sex, total intracranial volume and body mass index.</text>
<text x="1" y="1107.7" class="fn" textLength="1055.5" lengthAdjust="spacingAndGlyphs">The line represents the association between the two variables, and the colored areas are confidence bands in each group.</text>
</svg>
</body></html>
